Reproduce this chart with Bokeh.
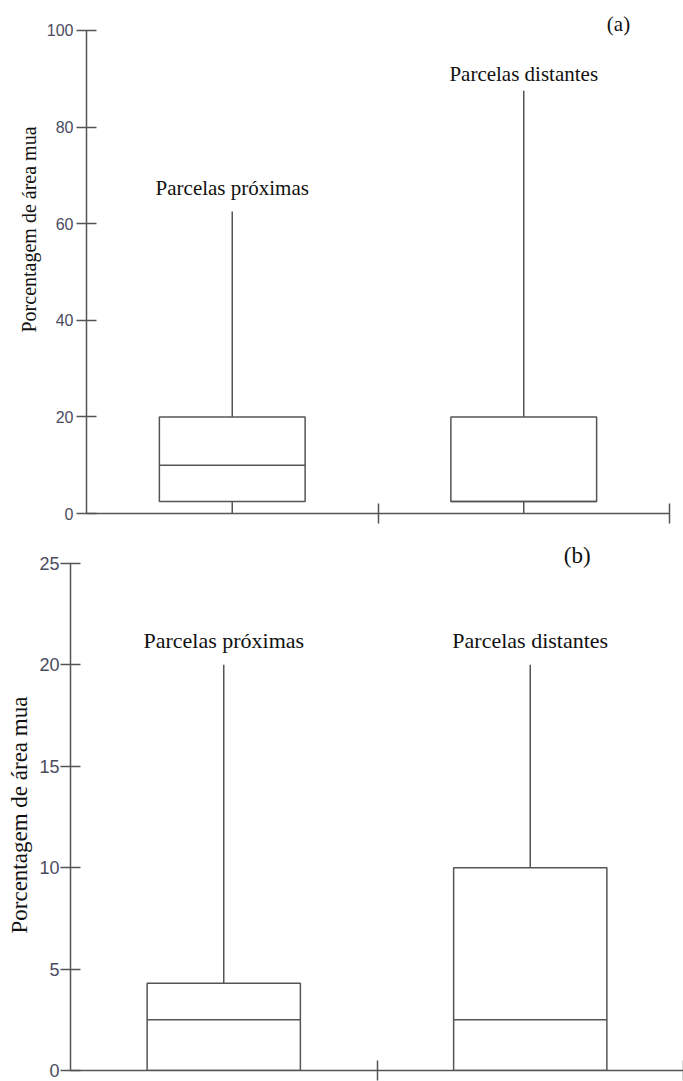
from bokeh.plotting import figure
from bokeh.models import Range1d, FixedTicker, Label, Title
from bokeh.embed import file_html
from bokeh.resources import INLINE

# ---------------- data ----------------
groups = ["Parcelas próximas", "Parcelas distantes"]
group_pos = [0.5, 1.5]

# panel (a)
a_lower = [0, 0]
a_q1 = [2.5, 2.5]
a_median = [10, 2.5]
a_q3 = [20, 20]
a_upper = [62.5, 87.5]
a_yticks = [0, 20, 40, 60, 80, 100]

# panel (b)
b_lower = [0, 0]
b_q1 = [0, 0]
b_median = [2.5, 2.5]
b_q3 = [4.3, 10]
b_upper = [20, 20]
b_yticks = [0, 5, 10, 15, 20, 25]

ylabel = "Porcentagem de área mua"

LINE = "#555555"
TICKC = "#4b4b5e"
SERIF = "Liberation Serif"
SANS = "Liberation Sans"


def make_panel(width, height, ymax, ytop, yticks, lower, q1, med, q3, upper,
               label_y, tag, tag_x, tag_y, borders, fs_tick, fs_lab, fs_ax,
               fs_tag, title_offset, title_standoff, tick_standoff, tick_out_x):
    p = figure(width=width, height=height, output_backend="svg",
               toolbar_location=None, x_range=Range1d(0, 2),
               y_range=Range1d(0, ytop))
    p.min_border_left, p.min_border_right, p.min_border_top, p.min_border_bottom = borders
    p.outline_line_color = None
    p.grid.visible = False
    p.background_fill_color = "white"

    # y axis
    ya = p.yaxis[0]
    ya.bounds = (0, ymax)
    ya.ticker = FixedTicker(ticks=yticks)
    ya.minor_tick_line_color = None
    ya.major_tick_in = 10
    ya.major_tick_out = 10
    ya.axis_line_color = LINE
    ya.axis_line_width = 1.5
    ya.major_tick_line_color = LINE
    ya.major_tick_line_width = 1.5
    ya.major_label_text_font = SANS
    ya.major_label_text_font_size = f"{fs_tick}px"
    ya.major_label_text_color = TICKC
    ya.major_label_standoff = tick_standoff

    # x axis
    xa = p.xaxis[0]
    xa.ticker = FixedTicker(ticks=[1, 2])
    xa.minor_tick_line_color = None
    xa.major_tick_in = 10
    xa.major_tick_out = tick_out_x
    xa.axis_line_color = LINE
    xa.axis_line_width = 1.5
    xa.major_tick_line_color = LINE
    xa.major_tick_line_width = 1.5
    xa.major_label_overrides = {1: "", 2: ""}
    xa.major_label_text_font_size = "1px"
    xa.major_label_standoff = 0

    # y axis title (rotated, on the left)
    p.add_layout(Title(text=ylabel, align="left", offset=title_offset,
                       standoff=title_standoff, text_font=SERIF,
                       text_font_style="normal",
                       text_font_size=f"{fs_ax}px", text_color="#111111"),
                 "left")

    left = [g - 0.25 for g in group_pos]
    right = [g + 0.25 for g in group_pos]
    # whiskers
    p.segment(x0=group_pos, y0=q3, x1=group_pos, y1=upper,
              line_color=LINE, line_width=1.5)
    p.segment(x0=group_pos, y0=lower, x1=group_pos, y1=q1,
              line_color=LINE, line_width=1.5)
    # boxes
    p.quad(left=left, right=right, bottom=q1, top=q3, fill_color="white",
           line_color=LINE, line_width=1.5)
    # medians
    p.segment(x0=left, y0=med, x1=right, y1=med, line_color=LINE,
              line_width=1.5)

    for g, ly, name in zip(group_pos, label_y, groups):
        p.add_layout(Label(x=g, y=ly, text=name, text_align="center",
                           text_baseline="middle", text_font=SERIF,
                           text_font_size=f"{fs_lab}px", text_color="#111111"))
    p.add_layout(Label(x=tag_x, y=tag_y, text=tag, text_align="center",
                       text_baseline="middle", text_font=SERIF,
                       text_font_size=f"{fs_tag}px", text_color="#111111"))
    return p


pa = make_panel(683, 530, 100, 103.7, a_yticks, a_lower, a_q1, a_median, a_q3,
                a_upper, label_y=[67.3, 90.9], tag="(a)", tag_x=1.825,
                tag_y=101.3, borders=(86, 14, 12, 17), fs_tick=16, fs_lab=21,
                fs_ax=20, fs_tag=21, title_offset=181, title_standoff=8,
                tick_standoff=3, tick_out_x=10)
pb = make_panel(683, 551, 25, 26.13, b_yticks, b_lower, b_q1, b_median, b_q3,
                b_upper, label_y=[21.2, 21.2], tag="(b)", tag_x=1.653,
                tag_y=25.4, borders=(69, 0, 10, 11), fs_tick=18, fs_lab=22,
                fs_ax=23, fs_tag=23, title_offset=137, title_standoff=9,
                tick_standoff=1, tick_out_x=10)

open("out.html", "w").write(file_html([pa, pb], INLINE))
